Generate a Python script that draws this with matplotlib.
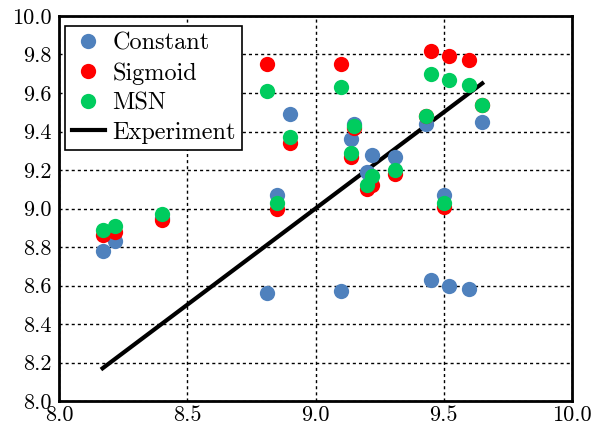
import matplotlib
matplotlib.use("Agg")
import matplotlib.pyplot as plt

plt.rcParams['font.family'] = 'serif'
plt.rcParams['font.serif'] = ['cmr10']
plt.rcParams['mathtext.fontset'] = 'cm'
plt.rcParams['axes.formatter.use_mathtext'] = True

experiment = [8.17, 8.22, 8.40, 8.81, 8.85, 8.90, 9.10, 9.14, 9.15, 9.20,
              9.22, 9.31, 9.43, 9.45, 9.50, 9.52, 9.60, 9.65]
constant = [8.78, 8.83, 8.95, 8.56, 9.07, 9.49, 8.57, 9.36, 9.44, 9.19,
            9.28, 9.27, 9.44, 8.63, 9.07, 8.60, 8.58, 9.45]
sigmoid = [8.86, 8.88, 8.94, 9.75, 9.00, 9.34, 9.75, 9.27, 9.42, 9.10,
           9.12, 9.18, 9.48, 9.82, 9.01, 9.79, 9.77, 9.54]
msn = [8.89, 8.91, 8.97, 9.61, 9.03, 9.37, 9.63, 9.29, 9.43, 9.12,
       9.17, 9.20, 9.48, 9.70, 9.03, 9.67, 9.64, 9.54]

xticks = [8.0, 8.5, 9.0, 9.5, 10.0]
yticks = [8.0, 8.2, 8.4, 8.6, 8.8, 9.0, 9.2, 9.4, 9.6, 9.8, 10.0]

fig = plt.figure(figsize=(5.95, 4.28), dpi=100)
ax = fig.add_axes([59/595, 1 - 401/428, (572-59)/595, (401-16)/428])

ms = 11
exp_sorted = sorted(experiment)
ax.plot([exp_sorted[0], exp_sorted[-1]], [exp_sorted[0], exp_sorted[-1]],
        color='k', lw=3, zorder=2, label='Experiment')
ax.plot(experiment, constant, 'o', color='#4f81bd', ms=ms, mew=0, zorder=3, label='Constant')
ax.plot(experiment, sigmoid, 'o', color='#ff0000', ms=ms, mew=0, zorder=4, label='Sigmoid')
ax.plot(experiment, msn, 'o', color='#00cc5e', ms=ms, mew=0, zorder=5, label='MSN')

ax.set_xlim(8.0, 10.0)
ax.set_ylim(8.0, 10.0)
ax.set_xticks(xticks)
ax.set_yticks(yticks)
ax.set_xticklabels([f"{v:.1f}" for v in xticks])
ax.set_yticklabels([f"{v:.1f}" for v in yticks])
ax.tick_params(length=0, labelsize=16)
ax.tick_params(axis='x', pad=3)
ax.tick_params(axis='y', pad=5)
ax.grid(True, color='k', lw=1.0, linestyle=(0, (2.2, 2.2)), zorder=0)
ax.set_axisbelow(True)
for s in ax.spines.values():
    s.set_linewidth(2)

handles, labels = ax.get_legend_handles_labels()
order = [1, 2, 3, 0]
leg = ax.legend([handles[i] for i in order], [labels[i] for i in order],
                loc='upper left', fontsize=17.5, frameon=True, fancybox=False,
                edgecolor='k', framealpha=1, handlelength=1.35, handletextpad=0.3,
                borderpad=0.28, labelspacing=0.3, borderaxespad=0.3, numpoints=1,
                bbox_to_anchor=(-0.002, 0.993))
leg.get_frame().set_linewidth(1.2)

fig.savefig('out.png', dpi=100)
